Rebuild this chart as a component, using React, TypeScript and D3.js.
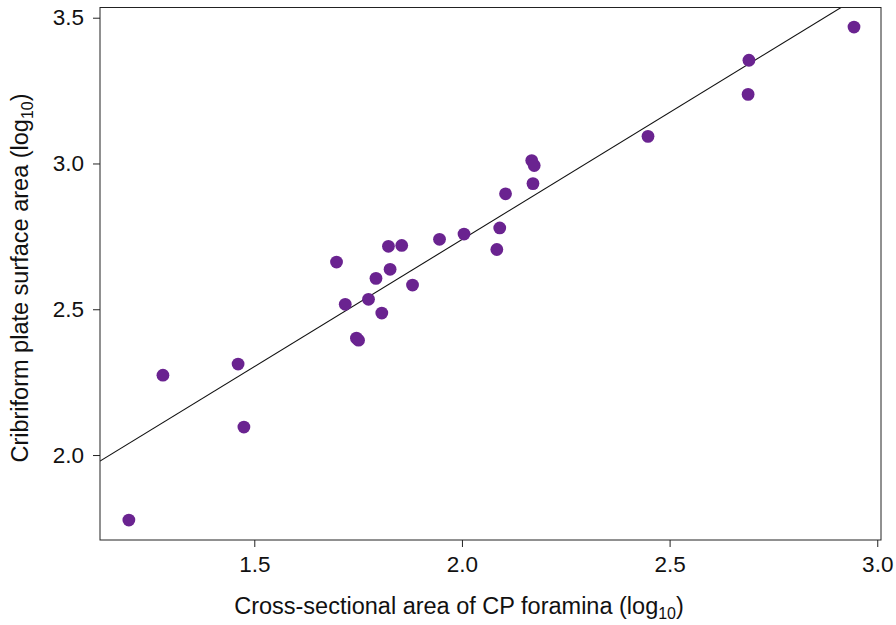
import React, { useEffect, useRef } from "react";
import * as d3 from "d3";

// log10 cross-sectional area of CP foramina
const foraminaArea = [
  1.198, 1.28, 1.461, 1.475, 1.698, 1.719, 1.746, 1.751, 1.775, 1.793, 1.807,
  1.823, 1.827, 1.855, 1.881, 1.946, 2.005, 2.084, 2.091, 2.105, 2.168, 2.174,
  2.171, 2.448, 2.689, 2.691, 2.944,
];
// log10 cribriform plate surface area
const plateArea = [
  1.777, 2.274, 2.312, 2.096, 2.662, 2.517, 2.401, 2.394, 2.534, 2.606, 2.487,
  2.716, 2.637, 2.719, 2.583, 2.74, 2.758, 2.705, 2.779, 2.896, 3.01, 2.993,
  2.931, 3.093, 3.237, 3.354, 3.468,
];
const xTicks = [1.5, 2.0, 2.5, 3.0];
const yTicks = [2.0, 2.5, 3.0, 3.5];
// fitted line y = a + b x
const fitIntercept = 0.995;
const fitSlope = 0.872;

const App = () => {
  const svgRef = useRef<SVGSVGElement>(null);
  const width = 896;
  const height = 625;
  const left = 100;
  const right = 881;
  const top = 7.5;
  const bottom = 540;
  const font = "'Liberation Sans', Arial, sans-serif";

  useEffect(() => {
    const svg = d3.select(svgRef.current);
    svg.selectAll("*").remove();

    const x = d3.scaleLinear().domain([1.1285, 3.009]).range([left, right]);
    const y = d3.scaleLinear().domain([1.7086, 3.535]).range([bottom, top]);

    const defs = svg.append("defs");
    defs
      .append("clipPath")
      .attr("id", "plotclip")
      .append("rect")
      .attr("x", left)
      .attr("y", top)
      .attr("width", right - left)
      .attr("height", bottom - top);

    // regression line
    const [x0, x1] = x.domain();
    svg
      .append("line")
      .attr("clip-path", "url(#plotclip)")
      .attr("x1", x(x0))
      .attr("y1", y(fitIntercept + fitSlope * x0))
      .attr("x2", x(x1))
      .attr("y2", y(fitIntercept + fitSlope * x1))
      .attr("stroke", "#111")
      .attr("stroke-width", 1.1);

    svg
      .append("g")
      .selectAll("circle")
      .data(foraminaArea.map((v, i) => [v, plateArea[i]]))
      .join("circle")
      .attr("cx", (d) => x(d[0]))
      .attr("cy", (d) => y(d[1]))
      .attr("r", 6.4)
      .attr("fill", "#6a2390");

    // box
    svg
      .append("rect")
      .attr("x", left)
      .attr("y", top)
      .attr("width", right - left)
      .attr("height", bottom - top)
      .attr("fill", "none")
      .attr("stroke", "#222")
      .attr("stroke-width", 1);

    const xAxis = d3
      .axisBottom(x)
      .tickValues(xTicks)
      .tickFormat(d3.format(".1f"))
      .tickSizeOuter(0)
      .tickSizeInner(7)
      .tickPadding(9);

    const yAxis = d3
      .axisLeft(y)
      .tickValues(yTicks)
      .tickFormat(d3.format(".1f"))
      .tickSizeOuter(0)
      .tickSizeInner(7)
      .tickPadding(9);

    const gx = svg
      .append("g")
      .attr("transform", `translate(0, ${bottom})`)
      .call(xAxis);
    gx.select(".domain").remove();
    gx.selectAll("line").attr("stroke", "#222");
    gx.selectAll("text")
      .attr("font-family", font)
      .attr("font-size", 22.5)
      .attr("fill", "#111");

    const gy = svg
      .append("g")
      .attr("transform", `translate(${left}, 0)`)
      .call(yAxis);
    gy.select(".domain").remove();
    gy.selectAll("line").attr("stroke", "#222");
    gy.selectAll("text")
      .attr("font-family", font)
      .attr("font-size", 22.5)
      .attr("fill", "#111");

    // axis titles
    const xt = svg
      .append("text")
      .attr("x", 459)
      .attr("y", 614)
      .attr("text-anchor", "middle")
      .attr("font-family", font)
      .attr("font-size", 23.5)
      .attr("fill", "#111");
    xt.append("tspan").text("Cross-sectional area of CP foramina (log");
    xt.append("tspan").attr("font-size", 16).attr("dy", 5).text("10");
    xt.append("tspan").attr("dy", -5).text(")");

    const yt = svg
      .append("text")
      .attr("transform", `translate(28, 278) rotate(-90)`)
      .attr("text-anchor", "middle")
      .attr("font-family", font)
      .attr("font-size", 23.5)
      .attr("fill", "#111");
    yt.append("tspan").text("Cribriform plate surface area (log");
    yt.append("tspan").attr("font-size", 16).attr("dy", 5).text("10");
    yt.append("tspan").attr("dy", -5).text(")");
  }, []);

  return (
    <svg
      ref={svgRef}
      width={width}
      height={height}
      style={{ position: "absolute", left: 0, top: 0, background: "#fff" }}
    ></svg>
  );
};

export default App;
